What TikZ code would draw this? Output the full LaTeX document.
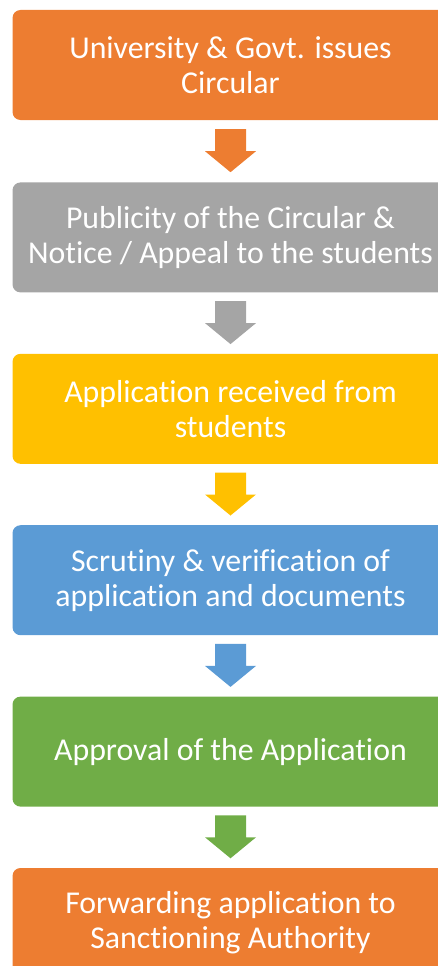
\documentclass[tikz,border=0pt]{standalone}
\usepackage{fontspec}
\setmainfont{Carlito}[Ligatures=NoCommon]
\usepackage{tikz}
\usetikzlibrary{calc,positioning}
\definecolor{orng}{HTML}{ED7D31}
\definecolor{gry}{HTML}{A5A5A5}
\definecolor{ylw}{HTML}{FFC000}
\definecolor{blu}{HTML}{5B9BD5}
\definecolor{grn}{HTML}{70AD47}
\begin{document}
\begin{tikzpicture}[x=1pt,y=1pt,
  stepbox/.style={rectangle, rounded corners=8pt, minimum width=436pt, minimum height=110pt, inner sep=0pt,
    text=white, align=center, font=\fontsize{31.8}{35}\selectfont}]
\useasboundingbox (0,0) rectangle (438,-966);
\node[stepbox, fill=orng] (s1) at (230.5,-65) {University \& Govt. issues\\Circular};
\node[stepbox, fill=gry, below=62pt of s1] (s2) {Publicity of the Circular \&\\Notice / Appeal to the students};
\node[stepbox, fill=ylw, below=61pt of s2] (s3) {Application received from\\students};
\node[stepbox, fill=blu, below=61pt of s3] (s4) {Scrutiny \& verification of\\application and documents};
\node[stepbox, fill=grn, below=61pt of s4] (s5) {Approval of the Application};
\node[stepbox, fill=orng, below=61pt of s5] (s6) {Forwarding application to\\Sanctioning Authority};
% block arrows between the steps
\foreach \i/\j/\c in {s1/s2/orng,s2/s3/gry,s3/s4/ylw,s4/s5/blu,s5/s6/grn}{
  \coordinate (\i\j) at ($(\i.south)!0.5!(\j.north)$);
  \fill[\c] ($(\i\j)+(-15.5,22)$) -- ($(\i\j)+(15.5,22)$) -- ($(\i\j)+(15.5,0)$) -- ($(\i\j)+(25.5,0)$)
    -- ($(\i\j)+(0,-21)$) -- ($(\i\j)+(-25.5,0)$) -- ($(\i\j)+(-15.5,0)$) -- cycle;}
\end{tikzpicture}
\end{document}
